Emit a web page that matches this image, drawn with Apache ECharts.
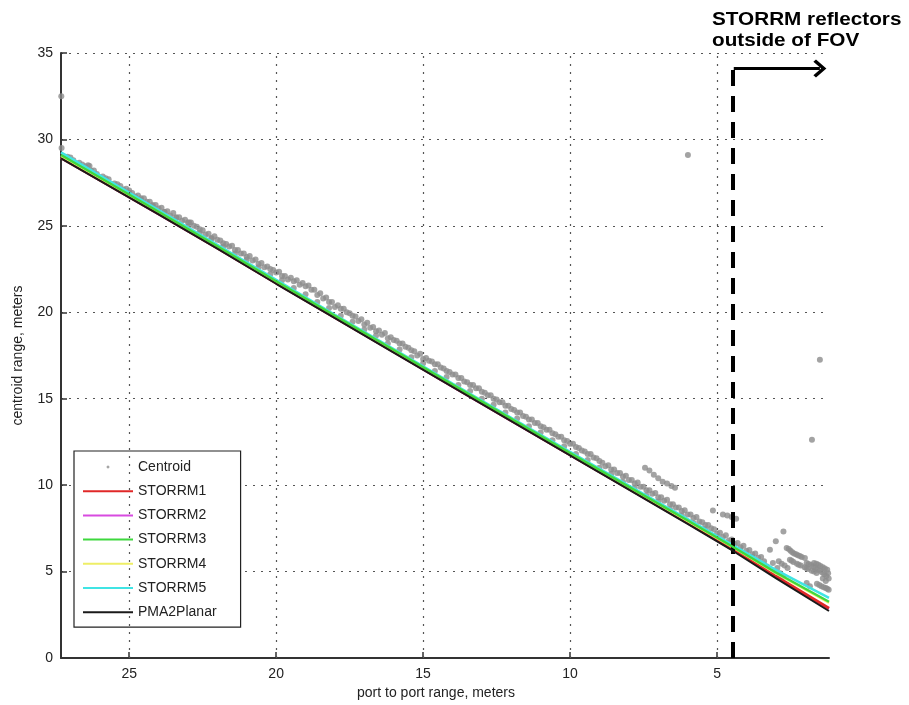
<!DOCTYPE html>
<html><head><meta charset="utf-8">
<script src="https://cdn.jsdelivr.net/npm/echarts@6/dist/echarts.min.js"></script>
<style>html,body{margin:0;padding:0;background:#fff}#c{width:909px;height:705px}</style>
</head><body><div id="c"></div>
<script>
// ---- data ----
const xTicks = [5, 10, 15, 20, 25];
const yTicks = [0, 5, 10, 15, 20, 25, 30, 35];
const lineX = [27.32, 26, 24, 22, 20, 18, 16, 14, 12, 10, 8, 6, 4.48, 3, 1.19];
const pma2Planar = [28.9, 27.62, 25.66, 23.68, 21.65, 19.66, 17.67, 15.68, 13.7, 11.72, 9.74, 7.76, 6.22, 4.62, 2.72];
const storrm1 = [28.95, 27.66, 25.7, 23.72, 21.7, 19.7, 17.72, 15.72, 13.74, 11.76, 9.8, 7.82, 6.3, 4.72, 2.88];
const storrm2 = [28.93, 27.64, 25.68, 23.7, 21.68, 19.68, 17.7, 15.7, 13.72, 11.74, 9.78, 7.8, 6.28, 4.7, 2.85];
const storrm3 = [29.1, 27.8, 25.82, 23.82, 21.8, 19.8, 17.82, 15.82, 13.84, 11.86, 9.9, 7.95, 6.45, 4.95, 3.25];
const storrm4 = [29.05, 27.76, 25.8, 23.8, 21.78, 19.78, 17.8, 15.8, 13.82, 11.84, 9.88, 7.92, 6.42, 4.9, 3.2];
const storrm5 = [29.25, 27.92, 25.92, 23.9, 21.88, 19.86, 17.88, 15.88, 13.9, 11.93, 9.98, 8.04, 6.55, 5.1, 3.48];
const centroid = [
 [27.2,29.0],[27.0,28.8],[26.8,28.6],[26.6,28.4],[26.4,28.5],[26.2,28.0],[26.0,27.8],[25.8,27.6],[25.6,27.4],[25.4,27.2],
 [25.2,27.1],[25.0,26.9],[24.8,26.7],[24.6,26.5],[24.4,26.4],[24.2,26.2],[24.0,26.0],[23.8,25.8],[23.6,25.6],[23.4,25.5],
 [23.2,25.3],[23.0,25.2],[22.8,25.0],[22.6,24.8],[22.4,24.5],[22.2,24.3],[22.0,24.2],[21.8,24.0],[21.6,23.8],[21.4,23.6],
 [21.2,23.4],[21.0,23.2],[20.8,23.0],[20.6,22.8],[20.4,22.6],[20.2,22.5],[20.0,22.3],[19.8,22.1],[19.6,21.9],[19.4,21.8],
 [19.2,21.6],[19.0,21.5],[18.8,21.3],[18.6,21.0],[18.4,20.8],[18.2,20.6],[18.0,20.3],[17.8,20.2],[17.6,20.0],[17.4,19.8],
 [17.2,19.5],[17.0,19.3],[16.8,19.1],[16.6,18.9],[16.4,18.7],[16.2,18.5],[16.0,18.4],[15.8,18.2],[15.6,18.0],[15.4,17.8],
 [15.2,17.5],[15.0,17.3],[14.8,17.2],[14.6,17.0],[14.4,16.8],[14.2,16.6],[14.0,16.4],[13.8,16.2],[13.6,16.0],[13.4,15.8],
 [13.2,15.6],[13.0,15.4],[12.8,15.2],[12.6,15.0],[12.4,14.8],[12.2,14.6],[12.0,14.4],[11.8,14.2],[11.6,14.0],[11.4,13.8],
 [11.2,13.6],[11.0,13.4],[10.8,13.2],[10.6,13.0],[10.4,12.8],[10.2,12.6],[10.0,12.4],[9.8,12.2],[9.6,12.0],[9.4,11.8],
 [9.2,11.6],[9.0,11.4],[8.8,11.1],[8.6,10.9],[8.4,10.7],[8.2,10.5],[8.0,10.3],[7.8,10.1],[7.6,9.9],[7.4,9.7],
 [7.2,9.5],[7.0,9.3],[6.8,9.1],[6.6,8.9],[6.4,8.7],[6.2,8.5],[6.0,8.3],[5.8,8.1],[5.6,7.9],[5.4,7.7],
 [5.2,7.5],[5.0,7.2],[4.8,7.0],[4.6,6.8],[4.4,6.6],[4.2,6.4],[4.0,6.2],[3.8,6.0],[3.6,5.8],[3.4,5.6],
 [27.0,28.95],[26.6,28.55],[26.2,28.2],[25.8,27.75],[25.4,27.4],[25.0,27.05],[24.6,26.6],[24.2,26.15],[23.8,25.8],[23.4,25.45],
 [23.0,24.95],[22.6,24.6],[22.2,24.25],[21.8,23.8],[21.4,23.4],[21.0,23.05],[20.6,22.6],[20.2,22.2],[19.8,21.85],[19.4,21.4],
 [19.0,21.05],[18.6,20.6],[18.2,20.25],[17.8,19.8],[17.4,19.45],[17.0,19.0],[16.6,18.65],[16.2,18.2],[15.8,17.85],[15.4,17.4],
 [15.0,17.05],[14.6,16.6],[14.2,16.25],[13.8,15.8],[13.4,15.45],[13.0,15.0],[12.6,14.65],[12.2,14.2],[11.8,13.85],[11.4,13.4],
 [11.0,13.05],[10.6,12.6],[10.2,12.25],[9.8,11.8],[9.4,11.45],[9.0,11.0],[8.6,10.65],[8.2,10.2],[7.8,9.85],[7.4,9.4],
 [7.0,9.05],[6.6,8.6],[6.2,8.25],[5.8,7.8],[5.4,7.45],[5.0,7.0],[4.6,6.65],[4.2,6.2],[3.8,5.85],[3.4,5.4],
 [27.1,29.0],[26.9,28.8],[26.7,28.65],[26.5,28.45],[26.3,28.2],[26.1,28.0],[25.9,27.85],[25.7,27.7],[25.5,27.45],[25.3,27.3],
 [25.1,27.15],[24.9,26.9],[24.7,26.75],[24.5,26.6],[24.3,26.4],[24.1,26.2],[23.9,26.05],[23.7,25.85],[23.5,25.75],[23.3,25.5],
 [23.1,25.35],[22.9,25.2],[22.7,24.95],[22.5,24.75],[22.3,24.55],[22.1,24.4],[21.9,24.15],[21.7,23.95],[21.5,23.85],[21.3,23.6],
 [21.1,23.4],[20.9,23.25],[20.7,23.05],[20.5,22.85],[20.3,22.65],[20.1,22.45],[19.9,22.35],[19.7,22.1],[19.5,22.0],[19.3,21.85],
 [19.1,21.7],[18.9,21.55],[18.7,21.3],[18.5,21.1],[18.3,20.85],[18.1,20.6],[17.9,20.4],[17.7,20.2],[17.5,19.95],[17.3,19.75],
 [17.1,19.6],[16.9,19.4],[16.7,19.15],[16.5,18.95],[16.3,18.8],[16.1,18.55],[15.9,18.35],[15.7,18.2],[15.5,17.95],[15.3,17.75],
 [15.1,17.6],[14.9,17.35],[14.7,17.15],[14.5,17.0],[14.3,16.75],[14.1,16.55],[13.9,16.4],[13.7,16.2],[13.5,15.95],[13.3,15.8],
 [13.1,15.6],[12.9,15.35],[12.7,15.2],[12.5,14.95],[12.3,14.8],[12.1,14.6],[11.9,14.35],[11.7,14.2],[11.5,13.95],[11.3,13.8],
 [11.1,13.6],[10.9,13.35],[10.7,13.2],[10.5,12.95],[10.3,12.8],[10.1,12.55],[9.9,12.4],[9.7,12.15],[9.5,11.95],[9.3,11.8],
 [9.1,11.55],[8.9,11.3],[8.7,11.15],[8.5,10.9],[8.3,10.7],[8.1,10.55],[7.9,10.3],[7.7,10.15],[7.5,9.9],[7.3,9.7],
 [7.1,9.55],[6.9,9.3],[6.7,9.15],[6.5,8.9],[6.3,8.7],[6.1,8.55],[5.9,8.3],[5.7,8.15],[5.5,7.85],[5.3,7.7],
 [5.1,7.45],[4.9,7.25],[4.7,7.1],[4.5,6.85],[4.3,6.65],[4.1,6.5],[3.9,6.25],[3.7,6.05],[3.5,5.85],
 [27.31,32.5],[27.3,29.5],[26.35,28.47],[22.96,25.2],[5.99,29.1],[1.5,17.25],[1.77,12.63],
 [7.45,11.0],[7.3,10.85],[7.15,10.6],[7.0,10.4],[6.85,10.2],[6.7,10.1],[6.55,9.95],[6.43,9.85],
 [5.14,8.54],[4.8,8.3],[4.65,8.25],[4.5,8.15],[4.35,8.05],
 [3.3,5.3],[3.2,6.26],[3.1,5.5],[3.0,6.76],[2.95,5.2],[2.85,4.9],[2.75,4.7],[2.74,7.32],
 [2.63,6.36],[2.5,6.2],[2.38,6.05],[2.25,5.95],[2.12,5.85],[2.01,5.78],[2.56,6.3],[2.44,6.12],[2.31,6.0],[2.18,5.9],
 [2.52,5.69],[2.4,5.55],[2.28,5.45],[2.15,5.35],[2.02,5.25],[1.9,5.15],[1.78,5.05],[1.61,4.92],[2.46,5.62],[2.22,5.4],[1.96,5.2],[1.7,5.0],
 [1.95,5.49],[1.8,5.38],[1.65,5.2],[1.5,5.05],[1.35,4.85],[1.2,4.6],[1.88,5.44],[1.72,5.3],[1.58,5.12],[1.42,4.95],[1.28,4.75],
 [1.95,4.34],[1.84,4.15],[1.6,4.3],[1.45,4.15],[1.3,4.05],[1.2,3.95],[1.52,4.22],[1.37,4.1],[1.25,4.0],
 [1.7,5.5],[1.55,5.4],[1.4,5.25],[1.25,5.1],[1.4,4.6],[1.3,4.45],[1.62,5.45],[1.48,5.32],[1.33,5.18],[1.22,4.9],
 [2.9,5.6],[2.8,5.45],[2.7,5.35],[2.6,5.2],[3.05,5.0],[2.9,4.75]
];
const fovX = 4.48;
const fovTop = 34.1;
const arrowEndX = 1.5;

// ---- chart ----
const chart = echarts.init(document.getElementById('c'));
const toPairs = ys => lineX.map((x, i) => [x, ys[i]]);
const gridLine = { type: [2, 6], color: '#555', width: 1.2 };
const lineIcon = 'path://M0,0M50,14M0,6L50,6L50,8L0,8Z';
const lineSeries = (name, ys, color, width, z) => ({
  name, type: 'line', data: toPairs(ys), symbol: 'none', z,
  lineStyle: { color, width }, itemStyle: { color }, silent: true, animation: false
});

chart.setOption({
  animation: false,
  backgroundColor: '#fff',
  graphic: [{
    type: 'text', left: 712, top: 10, scaleX: 1.15,
    style: { text: 'STORRM reflectors\noutside of FOV', fontFamily: 'Liberation Sans', fontSize: 18, fontWeight: 'bold', fill: '#000', lineHeight: 21 }
  }],
  grid: { left: 61, right: 80, top: 53, bottom: 47 },
  xAxis: {
    type: 'value', inverse: true, min: 1.19, max: 27.32,
    name: 'port to port range, meters', nameLocation: 'middle', nameGap: 19,
    nameTextStyle: { fontFamily: 'Liberation Sans', fontSize: 14, color: '#222', padding: [0, 18, 0, 0] },
    axisLine: { show: true, lineStyle: { color: '#333', width: 2 } },
    axisTick: { show: true, inside: true, length: 6, customValues: xTicks, lineStyle: { color: '#333', width: 1.5 } },
    axisLabel: { customValues: xTicks, margin: 9, fontFamily: 'Liberation Sans', fontSize: 14, color: '#222' },
    splitLine: { show: false }
  },
  yAxis: {
    type: 'value', min: 0, max: 35, interval: 5,
    name: 'centroid range, meters', nameLocation: 'middle', nameGap: 36,
    nameTextStyle: { fontFamily: 'Liberation Sans', fontSize: 14, color: '#222' },
    axisLine: { show: true, lineStyle: { color: '#333', width: 2 } },
    axisTick: { show: true, inside: true, length: 6, lineStyle: { color: '#333', width: 1.5 } },
    axisLabel: { margin: 8, fontFamily: 'Liberation Sans', fontSize: 14, color: '#222' },
    splitLine: { show: true, lineStyle: gridLine }
  },
  legend: {
    orient: 'vertical', left: 74, top: 451,
    padding: [9, 24, 8, 9], itemGap: 10.2, itemWidth: 50, itemHeight: 14, itemTextGap: 10,
    backgroundColor: '#fff', borderColor: '#222', borderWidth: 1.2,
    textStyle: { fontFamily: 'Liberation Sans', fontSize: 14, color: '#222' },
    data: [
      { name: 'Centroid', icon: 'path://M0,0M20,20M10,7.5L12.5,10L10,12.5L7.5,10Z' },
      { name: 'STORRM1', icon: lineIcon },
      { name: 'STORRM2', icon: lineIcon },
      { name: 'STORRM3', icon: lineIcon },
      { name: 'STORRM4', icon: lineIcon },
      { name: 'STORRM5', icon: lineIcon },
      { name: 'PMA2Planar', icon: lineIcon }
    ]
  },
  series: [
    {
      name: 'grid-x', type: 'scatter', data: [], silent: true, z: 1,
      markLine: {
        silent: true, symbol: ['none', 'none'], label: { show: false }, animation: false,
        lineStyle: gridLine,
        data: xTicks.map(v => [{ coord: [v, 0] }, { coord: [v, 35] }])
      }
    },
    {
      name: 'Centroid', type: 'scatter', data: centroid, symbol: 'circle', symbolSize: 6, z: 2,
      itemStyle: { color: '#8c8c8c' }, silent: true
    },
    lineSeries('STORRM1', storrm1, '#e02828', 3, 4),
    lineSeries('STORRM2', storrm2, '#d84be0', 2.4, 3),
    lineSeries('STORRM3', storrm3, '#3ed83e', 2.4, 5),
    lineSeries('STORRM4', storrm4, '#eeee66', 2.4, 4),
    lineSeries('STORRM5', storrm5, '#40e4e4', 2.4, 3),
    lineSeries('PMA2Planar', pma2Planar, '#1a1a1a', 2, 6),
    {
      name: 'fov', type: 'scatter', data: [], silent: true, z: 8,
      markLine: {
        silent: true, label: { show: false }, animation: false,
        data: [
          [{ coord: [fovX, 0], symbol: 'none', lineStyle: { type: [16, 10], width: 4, color: '#000' } },
           { coord: [fovX, fovTop], symbol: 'none' }],
          [{ coord: [fovX - 0.05, fovTop], symbol: 'none', lineStyle: { type: 'solid', width: 3, color: '#000' } },
           { coord: [arrowEndX, fovTop], symbol: 'path://M0,12L10,2L20,12L17.5,14.5L10,7L2.5,14.5Z', symbolSize: [18, 13] }]
        ]
      }
    }
  ]
});
</script>
</body></html>
